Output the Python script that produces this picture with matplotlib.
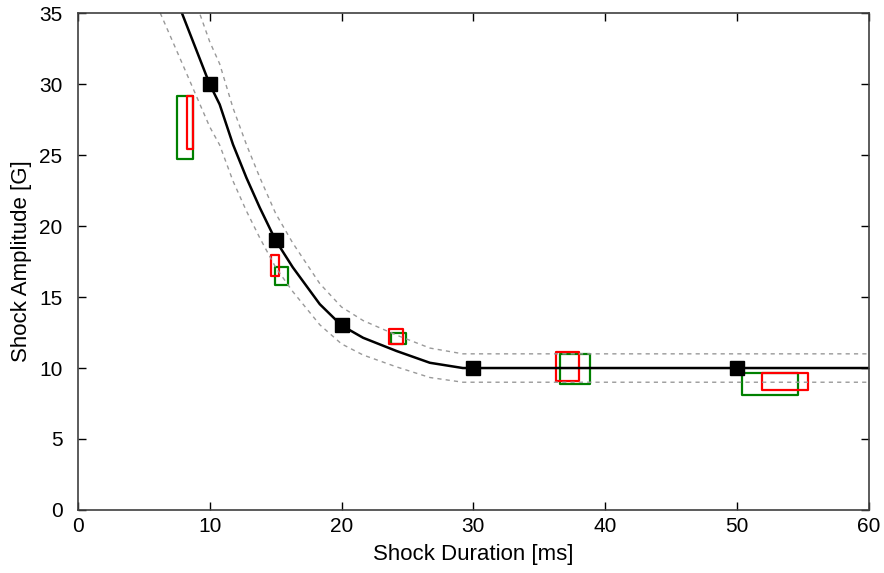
import matplotlib
matplotlib.use("Agg")
import matplotlib.pyplot as plt
from matplotlib.patches import Rectangle
import numpy as np

plt.rcParams["font.family"] = ["Liberation Sans", "DejaVu Sans"]

# limit curve (shock duration [ms] vs amplitude [G])
curve_ms = [6.0, 7.9, 10.0, 10.76, 11.77, 12.79, 13.8, 15.0, 16.3, 18.35,
            20.0, 21.64, 24.17, 26.7, 29.2, 60.0]
curve_g = [39.5, 35.0, 30.0, 28.57, 25.75, 23.4, 21.3, 19.0, 17.1, 14.5,
           13.0, 12.13, 11.2, 10.37, 10.0, 10.0]
band = 0.10  # +/- tolerance band

# spec points
spec_ms = [10, 15, 20, 30, 50]
spec_g = [30, 19, 13, 10, 10]

# measured ranges (duration min/max, amplitude min/max)
green_ms = [(7.55, 8.7), (14.93, 15.94), (23.79, 24.88), (36.56, 38.84), (50.36, 54.65)]
green_g = [(24.75, 29.15), (15.85, 17.1), (11.67, 12.49), (8.9, 10.96), (8.1, 9.67)]
red_ms = [(8.28, 8.73), (14.68, 15.26), (23.61, 24.63), (36.3, 38.0), (51.92, 55.34)]
red_g = [(25.4, 29.15), (16.48, 17.96), (11.71, 12.73), (9.08, 11.13), (8.43, 9.63)]

fig = plt.figure(figsize=(8.84, 5.73), dpi=100)
ax = fig.add_axes([0.088, 0.110, 0.895, 0.867])

x = np.array(curve_ms)
y = np.array(curve_g)
ax.plot(x, y * (1 + band), color="#999999", lw=1.0, ls=(0, (3, 3)))
ax.plot(x, y * (1 - band), color="#999999", lw=1.0, ls=(0, (3, 3)))
ax.plot(x, y, color="black", lw=1.8)
ax.plot(spec_ms, spec_g, ls="none", marker="s", ms=10, color="black")

for (x0, x1), (y0, y1) in zip(green_ms, green_g):
    ax.add_patch(Rectangle((x0, y0), x1 - x0, y1 - y0, fill=False,
                           ec="#008000", lw=1.6, joinstyle="round"))
for (x0, x1), (y0, y1) in zip(red_ms, red_g):
    ax.add_patch(Rectangle((x0, y0), x1 - x0, y1 - y0, fill=False,
                           ec="#ff0000", lw=1.6, joinstyle="round"))

ax.set_xlim(0, 60)
ax.set_ylim(0, 35)
ax.set_xticks(range(0, 61, 10))
ax.set_yticks(range(0, 36, 5))
ax.tick_params(direction="in", length=6, width=1, top=True, right=True,
               labelsize=15, color="black")
ax.tick_params(axis="x", pad=5)
ax.tick_params(axis="y", pad=11)
for s in ax.spines.values():
    s.set_color("#404040")
    s.set_linewidth(1.2)

ax.set_xlabel("Shock Duration [ms]", fontsize=16, labelpad=6)
ax.set_ylabel("Shock Amplitude [G]", fontsize=16, labelpad=5)

fig.savefig("out.png", dpi=100)
plt.close()
